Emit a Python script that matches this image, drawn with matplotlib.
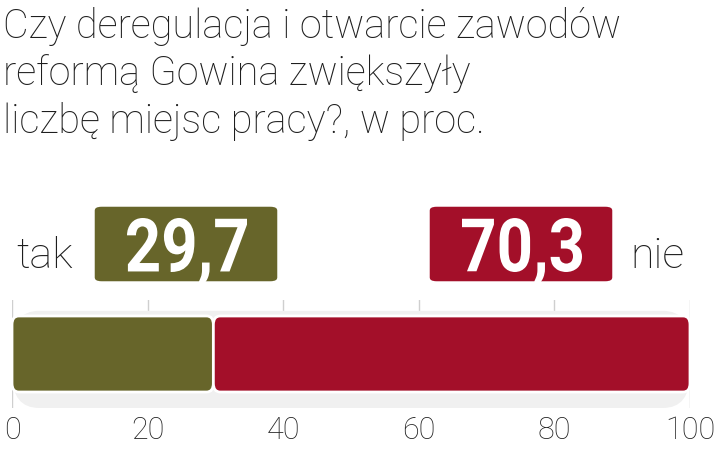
import matplotlib.pyplot as plt
from matplotlib.patches import FancyBboxPatch, PathPatch
from matplotlib.textpath import TextPath
from matplotlib.font_manager import FontProperties
from matplotlib.transforms import Affine2D, IdentityTransform

answers = ["tak", "nie"]
values = [29.7, 70.3]
value_labels = ["29,7", "70,3"]
colors = ["#67652a", "#a30f29"]
ticks = [0, 20, 40, 60, 80, 100]
title = "Czy deregulacja i otwarcie zawodów\nreformą Gowina zwiększyły\nliczbę miejsc pracy?, w proc."

font = "Roboto"
W, H = 720, 450

fig = plt.figure(figsize=(7.2, 4.5), dpi=100)
fig.patch.set_facecolor("white")

fig.text(0.004, 0.985, title, ha="left", va="top", fontsize=28.5, color="#1e1e1e",
         family=font, fontweight="light", linespacing=1.28)

ax = fig.add_axes([12 / W, 1 - 408 / H, 678 / W, 108 / H])
ax.set_xlim(0, 100)
ax.set_ylim(0, 1)
for s in ax.spines.values():
    s.set_visible(False)
ax.set_yticks([])
ax.set_xticks(ticks)
ax.set_xticklabels([str(t) for t in ticks], family=font, fontweight="light",
                   fontsize=22, color="#222222")
ax.tick_params(axis="x", length=0, pad=6)
for t in ticks:
    ax.axvline(t, color="#cfcfcf", lw=1, zorder=0)

# soft shadow behind the bar
shadow = FancyBboxPatch((0, 0.0), 100, 0.9, boxstyle="round,pad=0,rounding_size=4",
                        mutation_aspect=0.08, fc="#f0f0f0", ec="none", zorder=1)
ax.add_patch(shadow)

left = 0
for v, c in zip(values, colors):
    bar = FancyBboxPatch((left, 0.148), v, 0.704, boxstyle="round,pad=0,rounding_size=1",
                         mutation_aspect=0.08, fc=c, ec="white", lw=2, zorder=3)
    ax.add_patch(bar)
    left += v

# value boxes above the bar, with condensed bold numbers
box_centres = [186, 521]
prop = FontProperties(family=font, weight="bold")
for lab, c, xc in zip(value_labels, colors, box_centres):
    fig.patches.append(FancyBboxPatch(((xc - 93) / W, 1 - 283 / H), 186 / W, 78 / H,
                                      boxstyle="round,pad=0,rounding_size=0.012",
                                      transform=fig.transFigure, fc=c, ec="white", lw=2.5,
                                      zorder=2))
    tp = TextPath((0, 0), lab, size=100, prop=prop)
    digits = TextPath((0, 0), lab.replace(",", ""), size=100, prop=prop).get_extents()
    ext = tp.get_extents()
    sy = 54 / digits.height
    sx = 120 / ext.width
    tr = (Affine2D().translate(-(ext.x0 + ext.x1) / 2, -digits.y0).scale(sx, sy)
          .translate(xc + 1, H - 272))
    fig.patches.append(PathPatch(tr.transform_path(tp), fc="white", ec="none",
                                 transform=IdentityTransform(), zorder=3))

fig.text(16 / W, 1 - 268 / H, answers[0], ha="left", va="baseline", fontsize=31,
         color="#1e1e1e", family=font, fontweight="light")
fig.text(630 / W, 1 - 268 / H, answers[1], ha="left", va="baseline", fontsize=31,
         color="#1e1e1e", family=font, fontweight="light")

fig.savefig("out.png", dpi=100, facecolor="white")
